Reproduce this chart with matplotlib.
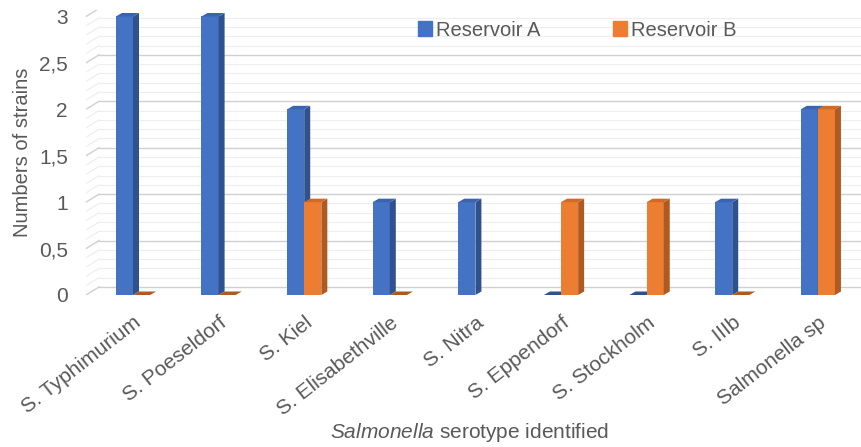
import matplotlib
matplotlib.use('Agg')
import matplotlib.pyplot as plt
from matplotlib.patches import Polygon, Patch
from matplotlib.ticker import FuncFormatter
import numpy as np

plt.rcParams['font.family'] = ['Liberation Sans', 'DejaVu Sans']
plt.rcParams['mathtext.fontset'] = 'custom'
plt.rcParams['mathtext.it'] = 'Liberation Sans:italic'
plt.rcParams['mathtext.rm'] = 'Liberation Sans'

# Anzahl Stämme je Serotyp
serotypes = ['S. Typhimurium', 'S. Poeseldorf', 'S. Kiel', 'S. Elisabethville',
             'S. Nitra', 'S. Eppendorf', 'S. Stockholm', 'S. IIIb', 'Salmonella sp']
reservoir_a = [3, 3, 2, 1, 1, 0, 0, 1, 2]
reservoir_b = [0, 0, 1, 0, None, 1, 1, 0, 2]   # S. Nitra: kein Balken fuer B

grau = '#595959'
blau = ('#4472C4', '#2F528F', '#3A64B0')     # vorne, seite, oben
orange = ('#ED7D31', '#AE5A21', '#D26A26')

fig = plt.figure(figsize=(8.62, 4.47), dpi=100)
ax = fig.add_axes([86/862, 152/447, 776/862, 285/447])

xlim = (-0.549, 8.516)
ylim = (0, 3.07)
ax.set_xlim(*xlim)
ax.set_ylim(*ylim)

# Pixel -> Dateneinheiten
px_x = (xlim[1] - xlim[0]) / 776
px_y = (ylim[1] - ylim[0]) / 285

# Rueckwand mit Gitterlinien (3D-Effekt)
wand_dx, wand_dy = 13 * px_x, 8 * px_y
for y in np.round(np.arange(0, 3.01, 0.1), 2):
    major = abs(y * 2 - round(y * 2)) < 1e-6
    c = '#D0D0D0' if major else '#EDEDED'
    lw = 1.0 if major else 0.8
    ax.plot([xlim[0], xlim[0] + wand_dx], [y, y + wand_dy], color=c, lw=lw, zorder=1)
    ax.plot([xlim[0] + wand_dx, xlim[1]], [y + wand_dy, y + wand_dy], color=c, lw=lw, zorder=1)

# Balken mit Tiefe
w = 0.2
tiefe_dx, tiefe_dy = 6 * px_x, 3.5 * px_y
x = np.arange(len(serotypes))


def balken(xl, h, farben):
    vorne, seite, oben = farben
    if h > 0:
        ax.bar(xl, h, width=w, align='edge', color=vorne, zorder=3, linewidth=0)
        ax.add_patch(Polygon([(xl + w, 0), (xl + w, h), (xl + w + tiefe_dx, h + tiefe_dy),
                              (xl + w + tiefe_dx, tiefe_dy)], closed=True,
                             facecolor=seite, edgecolor='none', zorder=3))
    ax.add_patch(Polygon([(xl, h), (xl + w, h), (xl + w + tiefe_dx, h + tiefe_dy),
                          (xl + tiefe_dx, h + tiefe_dy)], closed=True,
                         facecolor=seite if h == 0 else oben, edgecolor='none', zorder=3))


for i in x:
    balken(i - w, reservoir_a[i], blau)
    if reservoir_b[i] is not None:
        balken(i, reservoir_b[i], orange)

# Achsen
for s in ax.spines.values():
    s.set_visible(False)
ax.set_yticks(np.arange(0, 3.01, 0.5))
ax.yaxis.set_major_formatter(FuncFormatter(lambda v, p: ('%g' % v).replace('.', ',')))
ax.tick_params(axis='y', length=0, pad=13, labelsize=15, labelcolor=grau)
ax.set_xticks(x)
ax.set_xticklabels(serotypes, rotation=38, ha='right', rotation_mode='anchor')
ax.tick_params(axis='x', length=0, pad=13, labelsize=15, labelcolor=grau)

ax.set_ylabel('Numbers of strains', fontsize=14.5, color=grau, labelpad=5)
fig.text(470/862, 1 - 432/447, r'$\mathit{Salmonella}$ serotype identified',
         ha='center', va='center', fontsize=15, color=grau)

# Legende
handles = [Patch(color=blau[0], label='Reservoir A'), Patch(color=orange[0], label='Reservoir B')]
fig.legend(handles=handles, loc='center left', bbox_to_anchor=(418/862, 1 - 30/447),
           ncol=2, frameon=False, fontsize=14.5, labelcolor=grau,
           handlelength=0.7, handleheight=0.7, handletextpad=0.2, columnspacing=3.6,
           borderpad=0, borderaxespad=0)

plt.savefig('out.png', dpi=100)
